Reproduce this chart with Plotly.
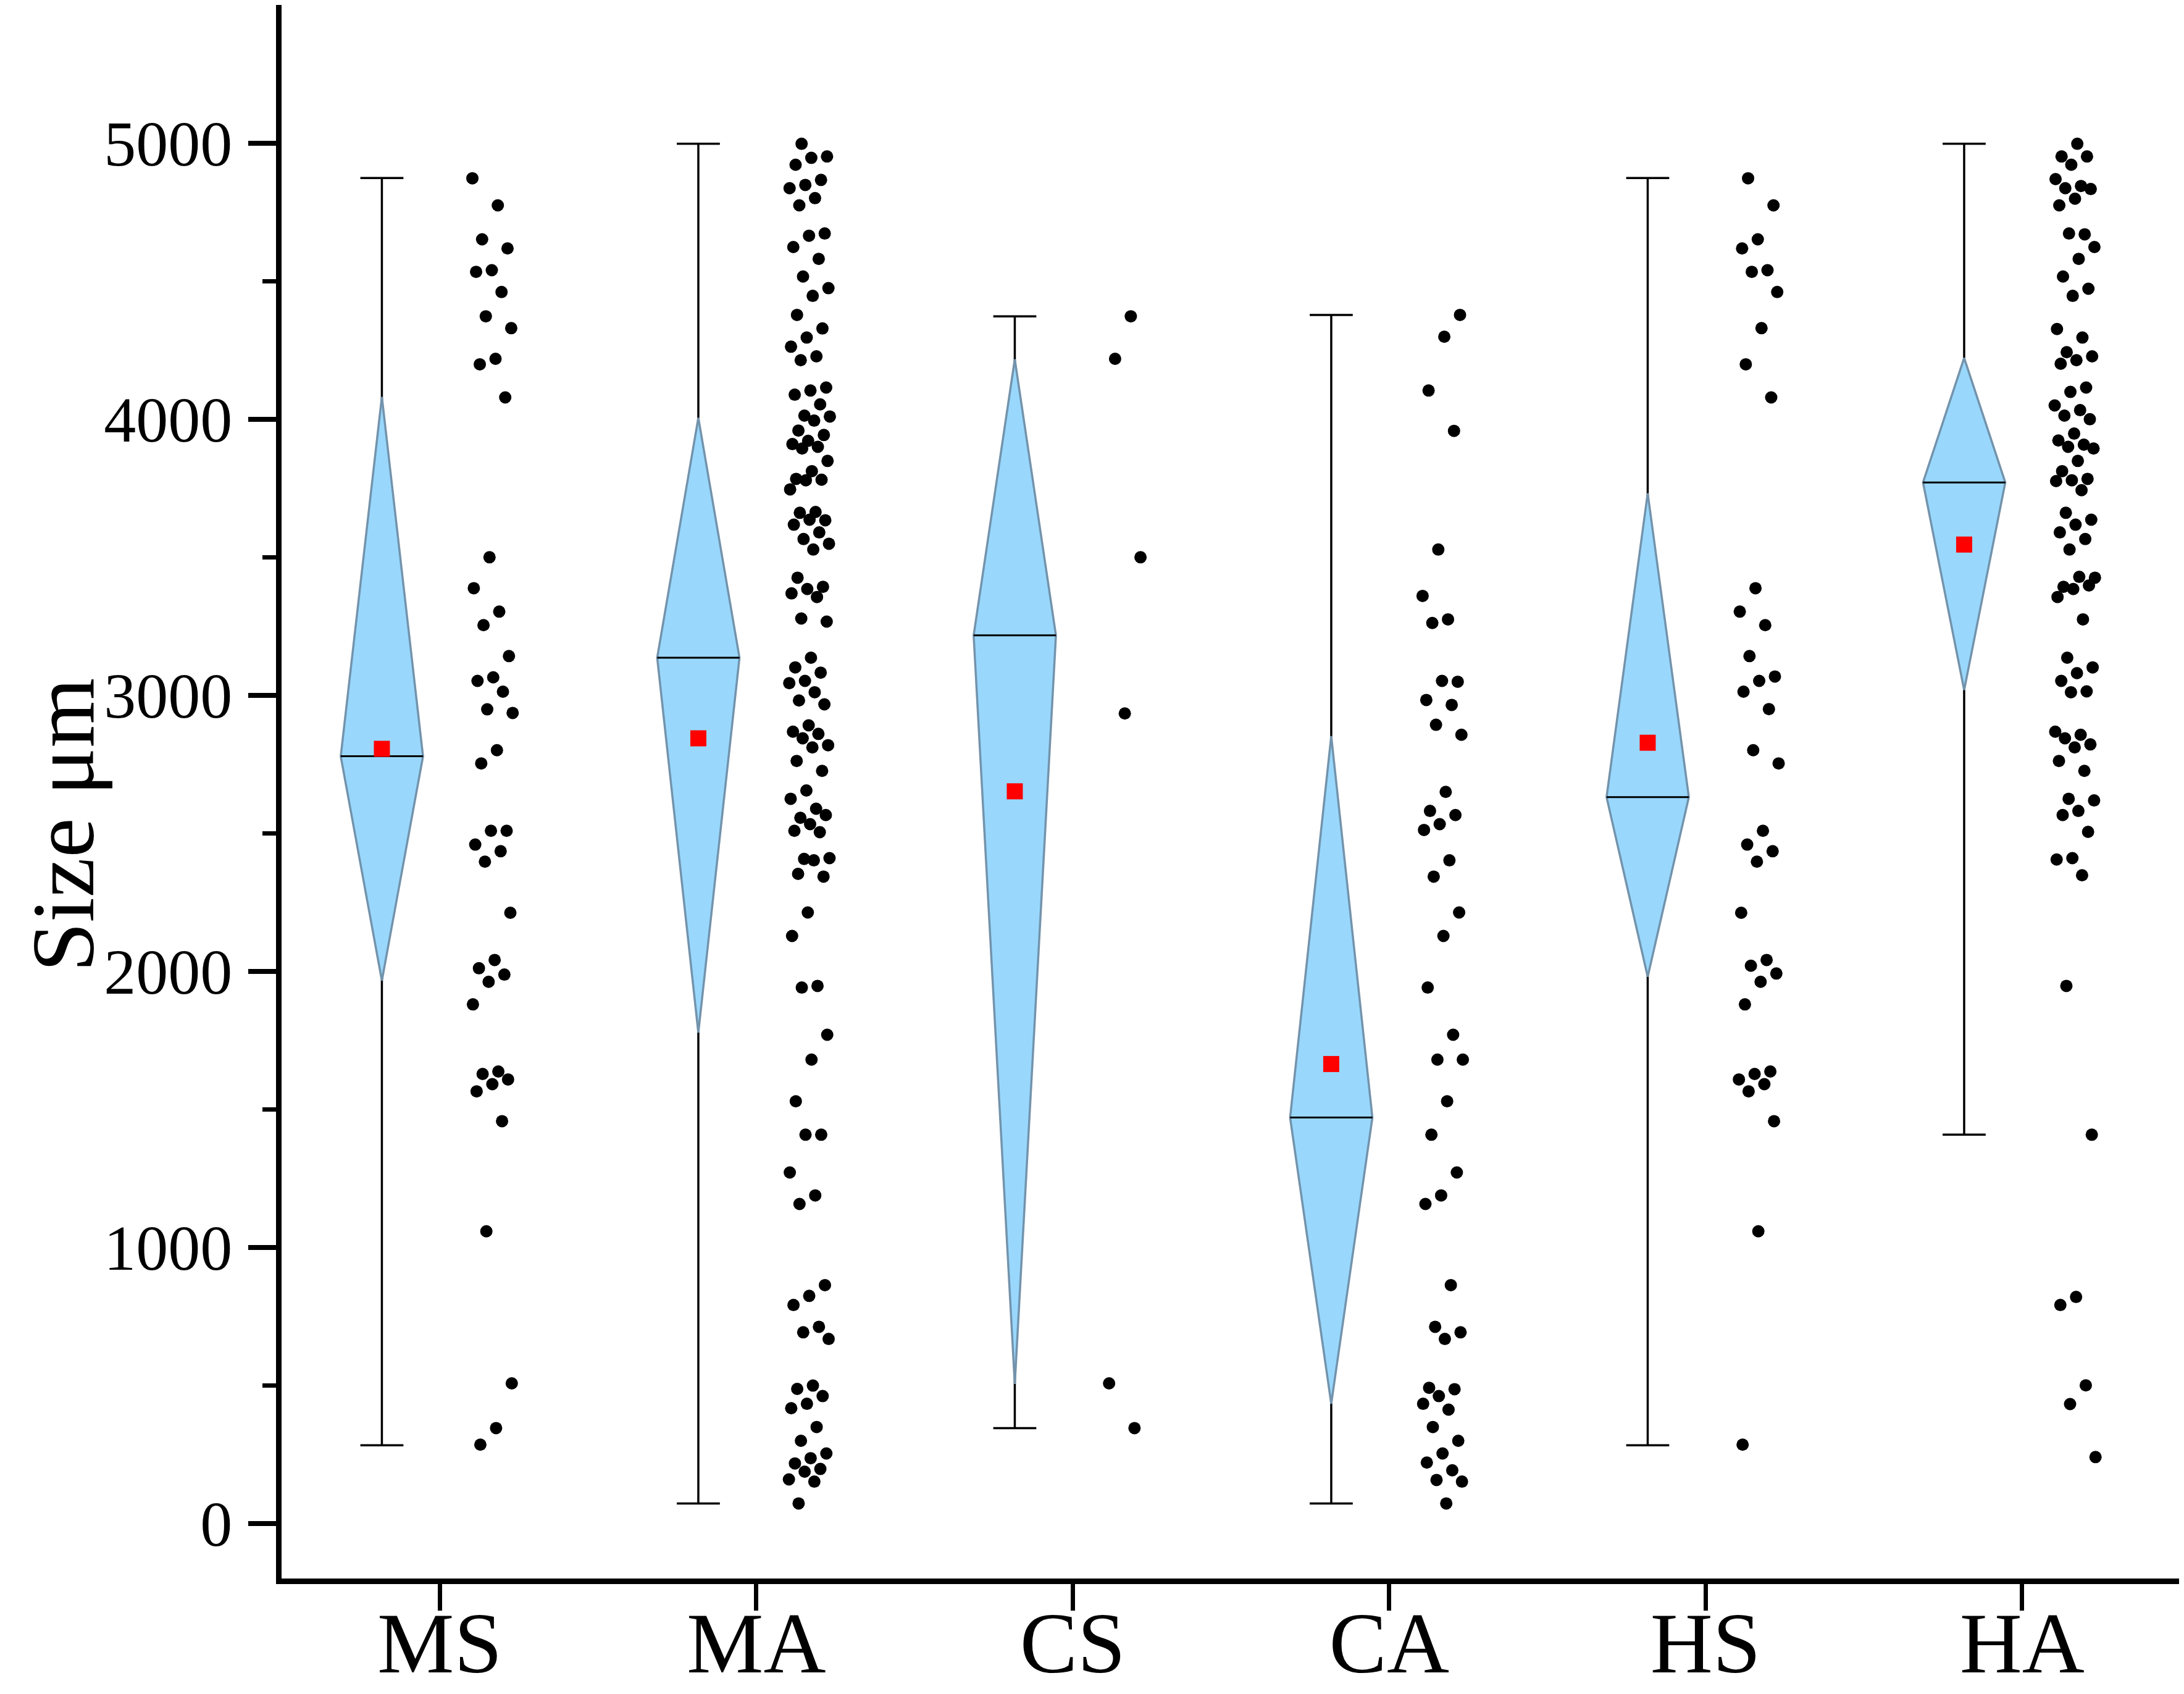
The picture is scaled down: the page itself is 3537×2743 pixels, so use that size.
import plotly.graph_objects as go

# ---------------- data ----------------
categories = ["MS", "MA", "CS", "CA", "HS", "HA"]

ms_points = [4873, 4775, 4652, 4619, 4540, 4534, 4461, 4373, 4330, 4219, 4199, 4079,
             3500, 3388, 3303, 3254, 3142, 3065, 3052, 3013, 2949, 2936, 2801, 2753,
             2509, 2509, 2459, 2435, 2397, 2212, 2041, 2011, 1988, 1962, 1880, 1637,
             1628, 1608, 1591, 1565, 1457, 1058, 507, 345, 285]

ma_points = [4998, 4952, 4947, 4922, 4867, 4849, 4837, 4801, 4775, 4673, 4665, 4624,
             4581, 4517, 4475, 4447, 4378, 4329, 4296, 4263, 4228, 4214, 4115, 4104,
             4089, 4054, 4013, 4010, 3995, 3959, 3943, 3922, 3910, 3900, 3894, 3849,
             3812, 3784, 3781, 3779, 3746, 3664, 3661, 3634, 3636, 3618, 3590, 3566,
             3549, 3528, 3426, 3393, 3385, 3369, 3356, 3278, 3267, 3136, 3101, 3082,
             3052, 3044, 3011, 2981, 2967, 2891, 2868, 2860, 2844, 2819, 2811, 2762,
             2726, 2655, 2625, 2589, 2556,
             2566, 2533, 2509, 2504, 2407, 2410, 2402, 2353, 2343, 2213, 2128, 1947,
             1941, 1770, 1680, 1529, 1408, 1408, 1271, 1188, 1157, 863, 824, 791,
             712, 692, 668, 499, 487, 461, 433, 417, 349, 299, 253, 236, 217, 197,
             187, 159, 151, 72]

cs_points = [4373, 4219, 3500, 2934, 507, 345]

ca_points = [4378, 4299, 4104, 3958, 3528, 3360, 3275, 3262, 3049, 3052, 2983, 2965,
             2893, 2857, 2650, 2581,
             2566, 2533, 2512, 2402, 2343, 2213, 2128, 1941, 1770, 1680, 1680, 1529,
             1408, 1271, 1188, 1157, 863, 712, 692, 668, 491, 486, 461, 433, 412,
             349, 299, 253, 220, 192, 157, 151, 72]

hs_points = [4873, 4775, 4652, 4619, 4540, 4534, 4461, 4330, 4199, 4079,
             3388, 3303, 3254, 3142, 3068, 3052, 3013, 2950, 2801, 2753,
             2509, 2459, 2435, 2397, 2212, 2041, 2020, 1992, 1962, 1880, 1637,
             1628, 1608, 1591, 1565, 1457, 1058, 285]

ha_points = [4998, 4952, 4952, 4922, 4870, 4845, 4837, 4834, 4799, 4775, 4670, 4673,
             4624, 4581, 4517, 4473, 4447, 4327, 4296, 4243, 4228, 4214, 4201, 4115,
             4099, 4050, 4033, 4013, 4000, 3948, 3923, 3908, 3900, 3894, 3849, 3812,
             3784, 3779, 3776, 3743, 3661, 3636, 3618, 3590, 3566, 3528, 3426, 3429,
             3393, 3398, 3385, 3356, 3275, 3136, 3101, 3080, 3052, 3014, 3011, 2868,
             2857, 2844, 2822, 2811, 2762, 2726, 2625, 2619, 2581,
             2566, 2505, 2410, 2405, 2348, 1947, 1408, 820, 791, 500, 432, 240]

whisker_low = [283, 72, 345, 72, 283, 1408]
whisker_high = [4874, 4998, 4373, 4378, 4874, 4998]
diamond_low = [1966, 1778, 505, 433, 1980, 3019]
diamond_high = [4081, 4005, 4217, 2852, 3732, 4222]
medians = [2779, 3136, 3217, 1470, 2631, 3771]
means = [2806, 2844, 2652, 1664, 2828, 3546]

y_major_ticks = [0, 1000, 2000, 3000, 4000, 5000]
y_minor_ticks = [500, 1500, 2500, 3500, 4500]

point_groups = [ms_points, ma_points, cs_points, ca_points, hs_points, ha_points]

# ---------------- geometry (in category units) ----------------
BOX_OFF = -0.183
PTS_OFF = 0.168
HALF_W = 0.13
CAP_HALF = 0.068
JIT = 0.13
FONT = "Liberation Serif"

fig = go.Figure()

# whiskers
wx, wy, cx, cy = [], [], [], []
for i in range(len(categories)):
    c = i + BOX_OFF
    wx += [c, c, None]
    wy += [whisker_low[i], whisker_high[i], None]
    for v in (whisker_low[i], whisker_high[i]):
        cx += [c - CAP_HALF, c + CAP_HALF, None]
        cy += [v, v, None]
fig.add_trace(go.Scatter(x=wx, y=wy, mode="lines", line=dict(color="black", width=3.5),
                         showlegend=False, hoverinfo="skip"))
fig.add_trace(go.Scatter(x=cx, y=cy, mode="lines", line=dict(color="black", width=3.5),
                         showlegend=False, hoverinfo="skip"))

# diamonds
for i in range(len(categories)):
    c = i + BOX_OFF
    fig.add_trace(go.Scatter(
        x=[c, c + HALF_W, c, c - HALF_W, c],
        y=[diamond_low[i], medians[i], diamond_high[i], medians[i], diamond_low[i]],
        mode="lines", fill="toself", fillcolor="#99D8FC",
        line=dict(color="#7393AC", width=3.5), showlegend=False, hoverinfo="skip"))

# medians
mx, my = [], []
for i in range(len(categories)):
    c = i + BOX_OFF
    mx += [c - HALF_W, c + HALF_W, None]
    my += [medians[i], medians[i], None]
fig.add_trace(go.Scatter(x=mx, y=my, mode="lines", line=dict(color="black", width=3),
                         showlegend=False, hoverinfo="skip"))

# means
fig.add_trace(go.Scatter(x=[i + BOX_OFF for i in range(len(categories))], y=means,
                         mode="markers", marker=dict(symbol="square", size=26, color="#FF0000"),
                         showlegend=False))

# data points with deterministic jitter
for i, pts in enumerate(point_groups):
    xs = [i + PTS_OFF + (((k * 0.6180339887 + i * 0.31) % 1.0) - 0.5) * JIT
          for k in range(len(pts))]
    fig.add_trace(go.Scatter(x=xs, y=pts, mode="markers",
                             marker=dict(symbol="circle", size=20, color="black",
                                         line=dict(width=0)),
                             showlegend=False))

fig.update_layout(
    width=3529, height=2735,
    margin=dict(l=448, r=6, t=0, b=187, autoexpand=False),
    paper_bgcolor="white", plot_bgcolor="white",
    font=dict(family=FONT, color="black"),
    xaxis=dict(range=[-0.5, 5.5], tickmode="array",
               tickvals=list(range(len(categories))), ticktext=categories,
               ticks="outside", ticklen=43, tickwidth=7, tickcolor="black",
               showline=True, linewidth=9, linecolor="black",
               showgrid=False, zeroline=False, automargin=False,
               ticklabelstandoff=-68,
               tickfont=dict(family=FONT, size=140, color="black")),
    yaxis=dict(range=[-200, 5501], tickmode="array", tickvals=y_major_ticks,
               ticks="outside", ticklen=45, tickwidth=8, tickcolor="black",
               minor=dict(tickmode="array", tickvals=y_minor_ticks, ticks="outside",
                          ticklen=22, tickwidth=7, tickcolor="black", showgrid=False),
               showline=True, linewidth=9, linecolor="black",
               showgrid=False, zeroline=False, automargin=False, ticklabelstandoff=5,
               tickfont=dict(family=FONT, size=104, color="black")),
    annotations=[dict(text="Size μm", xref="paper", yref="paper",
                      x=-0.1151, y=0.4788, xanchor="center", yanchor="middle",
                      textangle=-90, showarrow=False,
                      font=dict(family=FONT, size=145, color="black"))],
)

fig.write_html("out.html")
